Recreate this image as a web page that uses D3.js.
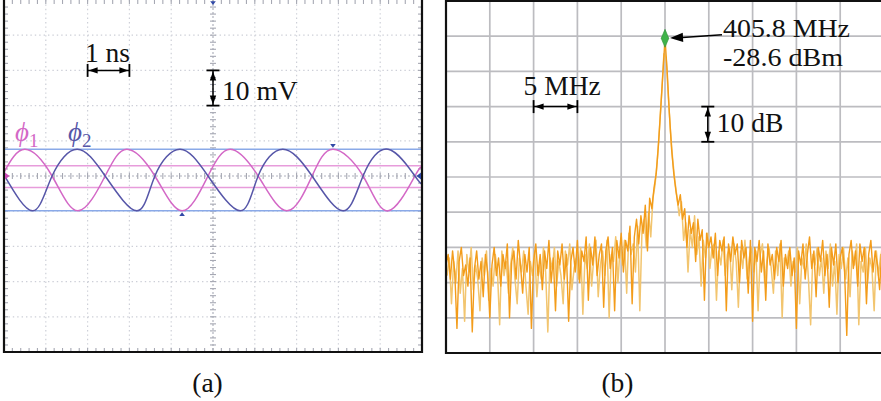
<!DOCTYPE html>
<html>
<head>
<meta charset="utf-8">
<script src="https://cdn.jsdelivr.net/npm/d3@7"></script>
<style>
  html, body { margin: 0; padding: 0; background: #fff; }
  svg { display: block; }
  svg text { font-family: "Liberation Serif", "Times New Roman", Times, "DejaVu Serif", serif; }
</style>
</head>
<body>
<svg id="fig" width="881" height="401"></svg>
<script>
// ---- (a) oscilloscope: two outputs, time in ns, amplitude in mV ----
const phi1Time = [0, 0.50, 1.15, 1.77, 2.42, 2.94, 3.61, 4.26, 4.88, 5.41, 6.08, 6.77, 7.37, 7.87, 8.59, 9.19, 9.83, 10];
const phi1MilliVolt = [1.1, 7.6, 0, -9.9, 0, 7.6, 0, -9.9, 0, 7.6, 0, -9.9, 0, 7.6, 0, -9.9, 0, 2.3];
const phi2Time = [0, 0.69, 1.15, 1.75, 2.42, 3.18, 3.61, 4.21, 4.88, 5.65, 6.08, 6.67, 7.37, 8.11, 8.59, 9.19, 9.83, 10];
const phi2MilliVolt = [0.3, -9.9, 0, 7.6, 0, -9.9, 0, 7.6, 0, -9.9, 0, 7.6, 0, -9.9, 0, 7.6, 0, -2.3];
const phi1CursorsMilliVolt = [2.9, -3.3];
const phi2CursorsMilliVolt = [7.6, -9.9];
const scopeTimeSpanNs = [0, 10];
const scopeVoltSpanMilliVolt = [-50, 50];

// ---- (b) spectrum analyser sweep, 0.25 MHz bins, level in dBm ----
const sweepStartMHz = 380.8;
const sweepStepMHz = 0.25;
// live trace on the bin centres
const traceDbm = [
  -93, -90, -97, -89, -95, -111, -92, -88, -96, -93, -99, -91, -112, -94, -89, -97, -92, -102, -90, -95,
  -108, -93, -88, -96, -91, -99, -90, -94, -87, -108, -92, -89, -97, -86, -93, -101, -90, -95, -88, -111,
  -92, -87, -96, -90, -100, -89, -94, -86, -98, -91, -106, -89, -93, -87, -97, -90, -109, -92, -88, -95,
  -86, -98, -89, -92, -85, -103, -88, -93, -85, -96, -90, -87, -105, -89, -85, -94, -88, -106, -86, -91,
  -84, -95, -86, -89, -82, -104, -85, -80, -87, -79, -84, -76, -89, -74, -77, -71, -67, -59, -49, -39,
  -28.6,
  -38, -50, -60, -67, -72, -76, -73, -80, -77, -88, -79, -84, -81, -92, -80, -86, -83, -103, -84, -88,
  -85, -91, -84, -96, -86, -89, -85, -106, -87, -92, -85, -90, -87, -98, -86, -91, -88, -101, -86, -109,
  -88, -92, -86, -95, -89, -103, -87, -93, -90, -97, -88, -92, -86, -99, -90, -94, -88, -96, -91, -111,
  -89, -93, -87, -97, -90, -85, -94, -89, -102, -88, -92, -86, -96, -90, -105, -88, -93, -87, -98, -91,
  -88, -95, -113, -90, -86, -94, -89, -99, -87, -92, -88, -104, -90, -86, -95, -89, -93, -100, -88, -92
];
// second sweep, sampled half a bin later
const traceDbmOffset = [
  -96, -91, -104, -92, -98, -89, -101, -94, -109, -90, -95, -88, -100, -93, -97, -106, -91, -96, -89, -103,
  -94, -99, -90, -95, -110, -89, -96, -92, -101, -93, -88, -97, -104, -91, -95, -89, -99, -107, -92, -96,
  -89, -102, -93, -97, -88, -95, -112, -91, -94, -88, -99, -92, -96, -104, -89, -93, -87, -100, -94, -91,
  -97, -88, -107, -90, -94, -87, -99, -91, -86, -102, -93, -89, -96, -86, -108, -90, -92, -85, -98, -88,
  -93, -86, -101, -84, -90, -87, -95, -82, -106, -83, -80, -88, -78, -85, -74, -70, -63, -54, -44, -33,
  -34, -45, -55, -63, -69, -74, -79, -75, -86, -81, -95, -83, -88, -79, -90, -85, -99, -86, -91, -84,
  -94, -88, -87, -103, -89, -93, -86, -96, -90, -88, -100, -87, -92, -105, -89, -94, -86, -97, -91, -88,
  -95, -89, -106, -90, -87, -98, -92, -88, -94, -101, -89, -96, -87, -108, -91, -93, -89, -99, -92, -95,
  -88, -104, -91, -94, -87, -97, -110, -90, -93, -88, -96, -91, -101, -89, -94, -87, -99, -92, -107, -90,
  -94, -88, -97, -91, -102, -89, -93, -87, -110, -92, -95, -88, -98, -91, -94, -106, -89, -96, -90, -93
];
const markerMHz = 405.8;
const markerDbm = -28.6;
const spanMHz = [380.8, 430.8];
const levelSpanDbm = [-118, -18];

const PINK = "#d368c6", BLUE = "#5656a8";
const svg = d3.select("#fig");

// double-headed dimension bars
function arrowHead(g, tipX, tipY, dx, dy, len, half) {
  const bx = tipX + dx * len, by = tipY + dy * len;
  const px = -dy * half, py = dx * half;
  g.append("path")
    .attr("d", `M${tipX},${tipY}L${bx + px},${by + py}L${bx - px},${by - py}Z`)
    .attr("fill", "#000");
}
function hBar(g, x1, x2, y) {
  g.append("line").attr("x1", x1).attr("x2", x2).attr("y1", y).attr("y2", y)
    .attr("stroke", "#000").attr("stroke-width", 1.5);
  [x1, x2].forEach(x => g.append("line").attr("x1", x).attr("x2", x)
    .attr("y1", y - 6.5).attr("y2", y + 6.5).attr("stroke", "#000").attr("stroke-width", 1.8));
  arrowHead(g, x1 + 1, y, 1, 0, 9, 3.2);
  arrowHead(g, x2 - 1, y, -1, 0, 9, 3.2);
}
function vBar(g, x, y1, y2) {
  g.append("line").attr("x1", x).attr("x2", x).attr("y1", y1).attr("y2", y2)
    .attr("stroke", "#000").attr("stroke-width", 1.5);
  [y1, y2].forEach(y => g.append("line").attr("x1", x - 6.5).attr("x2", x + 6.5)
    .attr("y1", y).attr("y2", y).attr("stroke", "#000").attr("stroke-width", 1.8));
  arrowHead(g, x, y1 + 1, 0, 1, 9, 3.2);
  arrowHead(g, x, y2 - 1, 0, -1, 9, 3.2);
}
function label(g, x, y, txt, anchor, size) {
  return g.append("text").attr("x", x).attr("y", y)
    .attr("font-size", size || 27.5).attr("fill", "#111").attr("text-anchor", anchor || "start").text(txt);
}

// ================= (a) =================
const xA = d3.scaleLinear().domain(scopeTimeSpanNs).range([4, 422]);
const yA = d3.scaleLinear().domain(scopeVoltSpanMilliVolt).range([352, 0]);
const a = svg.append("g");

const divT = d3.range(1, 10);
const divV = d3.range(-40, 50, 10);
// dotted graticule
a.append("g").selectAll("line").data(divT.filter(t => t !== 5)).join("line")
  .attr("x1", d => xA(d)).attr("x2", d => xA(d)).attr("y1", yA(50)).attr("y2", yA(-50))
  .attr("stroke", "#cdcfd8").attr("stroke-width", 1.2).attr("stroke-dasharray", "1.4 3");
a.append("g").selectAll("line").data(divV.filter(v => v !== 0)).join("line")
  .attr("x1", xA(0)).attr("x2", xA(10)).attr("y1", d => yA(d)).attr("y2", d => yA(d))
  .attr("stroke", "#cdcfd8").attr("stroke-width", 1.2).attr("stroke-dasharray", "1.4 3");
// centre axes
a.append("line").attr("x1", xA(5)).attr("x2", xA(5)).attr("y1", yA(50)).attr("y2", yA(-50))
  .attr("stroke", "#b0b2bd").attr("stroke-width", 1.2).attr("stroke-dasharray", "2 2");
a.append("line").attr("x1", xA(0)).attr("x2", xA(10)).attr("y1", yA(0)).attr("y2", yA(0))
  .attr("stroke", "#b0b2bd").attr("stroke-width", 1.2).attr("stroke-dasharray", "2 2");
// minor ticks on centre axes and edges
const minorT = d3.range(1, 50).map(i => i / 5);
const minorV = d3.range(-24, 25).map(i => i * 2);
const tickG = a.append("g").attr("stroke", "#a6a8b3").attr("stroke-width", 1.1);
minorT.forEach(t => {
  const x = xA(t);
  tickG.append("line").attr("x1", x).attr("x2", x).attr("y1", yA(0) - 3).attr("y2", yA(0) + 3);
  tickG.append("line").attr("x1", x).attr("x2", x).attr("y1", yA(-50) - 4).attr("y2", yA(-50));
  tickG.append("line").attr("x1", x).attr("x2", x).attr("y1", yA(50)).attr("y2", yA(50) + 4);
});
minorV.forEach(v => {
  const y = yA(v);
  tickG.append("line").attr("x1", xA(5) - 3).attr("x2", xA(5) + 3).attr("y1", y).attr("y2", y);
  tickG.append("line").attr("x1", xA(0)).attr("x2", xA(0) + 4).attr("y1", y).attr("y2", y);
  tickG.append("line").attr("x1", xA(10) - 4).attr("x2", xA(10)).attr("y1", y).attr("y2", y);
});

// cursors
a.append("g").selectAll("line").data(phi2CursorsMilliVolt).join("line")
  .attr("x1", xA(0)).attr("x2", xA(10)).attr("y1", d => yA(d)).attr("y2", d => yA(d))
  .attr("stroke", "#8aa9e8").attr("stroke-width", 1.5);
a.append("g").selectAll("line").data(phi1CursorsMilliVolt).join("line")
  .attr("x1", xA(0)).attr("x2", xA(10)).attr("y1", d => yA(d)).attr("y2", d => yA(d))
  .attr("stroke", "#e79cdb").attr("stroke-width", 1.5);

// waveforms
const wave = d3.line().x(d => xA(d[0])).y(d => yA(d[1])).curve(d3.curveNatural);
a.append("path").datum(phi1Time.map((t, i) => [t, phi1MilliVolt[i]]))
  .attr("d", wave).attr("fill", "none").attr("stroke", PINK).attr("stroke-width", 1.5);
a.append("path").datum(phi2Time.map((t, i) => [t, phi2MilliVolt[i]]))
  .attr("d", wave).attr("fill", "none").attr("stroke", BLUE).attr("stroke-width", 1.5);

// frame (left, right, bottom)
a.append("path")
  .attr("d", `M${xA(0)},${yA(50)}V${yA(-50)}H${xA(10)}V${yA(50)}`)
  .attr("fill", "none").attr("stroke", "#111").attr("stroke-width", 2.2);

// channel / trigger markers
const tri = (g, x, y, dir, col, s) => {
  const pts = {
    right: [[x, y - s], [x + s * 1.3, y], [x, y + s]],
    left: [[x, y - s], [x - s * 1.3, y], [x, y + s]],
    down: [[x - s, y - s * 1.3], [x + s, y - s * 1.3], [x, y]],
    up: [[x - s, y + s * 1.3], [x + s, y + s * 1.3], [x, y]]
  }[dir];
  g.append("path").attr("d", "M" + pts.join("L") + "Z").attr("fill", col);
};
tri(a, xA(0) + 1, yA(0), "right", "#c94ab4", 3.5);
tri(a, xA(10) - 1, yA(0), "left", "#3048a6", 3.5);
tri(a, xA(5), yA(50) + 5, "down", "#3048a6", 2.8);
tri(a, xA(phi1Time[13]), yA(phi1MilliVolt[13]) - 1.5, "down", "#3048a6", 2.8);
tri(a, xA(phi1Time[7]), yA(phi1MilliVolt[7]) + 1.5, "up", "#3048a6", 2.8);

// channel labels
const phiLabel = (x, col, sub) => {
  const t = a.append("text").attr("x", x).attr("y", 141).attr("fill", col)
    .attr("font-size", 27).attr("font-style", "italic").text("\u03D5");
  t.append("tspan").attr("font-style", "normal").attr("font-size", 19).attr("dy", 6).text(sub);
};
phiLabel(15, PINK, "1");
phiLabel(68, BLUE, "2");

// scale annotations
hBar(a, xA(2), xA(3), yA(30));
label(a, (xA(2) + xA(3)) / 2 - 1, 62, "1 ns", "middle");
vBar(a, xA(5), yA(30), yA(20));
label(a, xA(5) + 9, 100, "10 mV");

// ================= (b) =================
const xB = d3.scaleLinear().domain(spanMHz).range([446, 884]);
const yB = d3.scaleLinear().domain(levelSpanDbm).range([353, 1]);
const b = svg.append("g");
b.append("clipPath").attr("id", "specClip").append("rect")
  .attr("x", xB(spanMHz[0])).attr("y", yB(levelSpanDbm[1])).attr("width", 440).attr("height", 352);

const fTicks = d3.range(1, 10).map(k => spanMHz[0] + k * 5);
const lTicks = d3.range(1, 10).map(k => levelSpanDbm[0] + k * 10);
b.append("g").selectAll("line").data(fTicks).join("line")
  .attr("x1", d => xB(d)).attr("x2", d => xB(d)).attr("y1", yB(levelSpanDbm[1])).attr("y2", yB(levelSpanDbm[0]))
  .attr("stroke", "#bcbcc0").attr("stroke-width", 1.7);
b.append("g").selectAll("line").data(lTicks).join("line")
  .attr("x1", xB(spanMHz[0])).attr("x2", 881).attr("y1", d => yB(d)).attr("y2", d => yB(d))
  .attr("stroke", "#bcbcc0").attr("stroke-width", 1.7);

const specLine = d3.line().x(d => xB(d[0])).y(d => yB(d[1]));
const specA = traceDbm.map((v, i) => [sweepStartMHz + i * sweepStepMHz, v]);
const specB = traceDbmOffset.map((v, i) => [sweepStartMHz + (i + 0.5) * sweepStepMHz, v]);
const tr = b.append("g").attr("clip-path", "url(#specClip)");
tr.append("path").datum(specB).attr("d", specLine).attr("fill", "none")
  .attr("stroke", "#f2c56f").attr("stroke-width", 1.5).attr("stroke-linejoin", "round");
tr.append("path").datum(specA).attr("d", specLine).attr("fill", "none")
  .attr("stroke", "#f39c1a").attr("stroke-width", 1.4).attr("stroke-linejoin", "round");

// frame (left, top, bottom; right edge runs off)
b.append("path")
  .attr("d", `M890,${yB(levelSpanDbm[1])}H${xB(spanMHz[0])}V${yB(levelSpanDbm[0])}H890`)
  .attr("fill", "none").attr("stroke", "#111").attr("stroke-width", 2.2);

// peak marker
const mx = xB(markerMHz), my = yB(markerDbm);
b.append("path").attr("d", `M${mx},${my - 9}L${mx + 3.8},${my}L${mx},${my + 9}L${mx - 3.8},${my}Z`)
  .attr("fill", "#3fb34a").attr("stroke", "#2f8f38").attr("stroke-width", 0.6);
b.append("line").attr("x1", 722).attr("y1", my - 3.5).attr("x2", mx + 14).attr("y2", my - 0.6)
  .attr("stroke", "#000").attr("stroke-width", 1.5);
arrowHead(b, mx + 5, my - 0.3, 1, -0.055, 13, 4.6);
label(b, 723, 37, markerMHz.toFixed(1) + " MHz", "start", 26)
  .attr("textLength", 127).attr("lengthAdjust", "spacingAndGlyphs");
label(b, 723, 66, markerDbm.toFixed(1) + " dBm", "start", 26)
  .attr("textLength", 120).attr("lengthAdjust", "spacingAndGlyphs");

// scale annotations
hBar(b, xB(390.8), xB(395.8), yB(-48));
label(b, xB(390.8) - 10, 95, "5 MHz");
vBar(b, xB(410.8) - 1, yB(-48), yB(-58));
label(b, xB(410.8) + 8, 132, "10 dB");

// panel captions
label(svg, 207.5, 392, "(a)", "middle");
label(svg, 617.5, 392, "(b)", "middle");
</script>
</body>
</html>
